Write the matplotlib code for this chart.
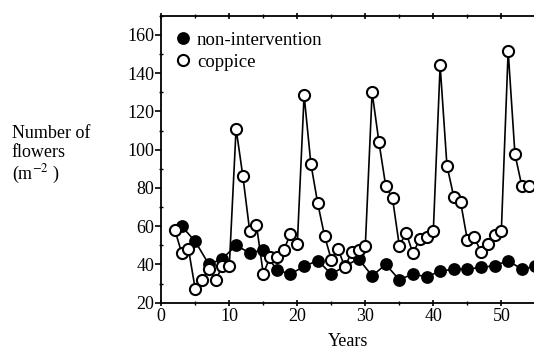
import matplotlib
matplotlib.use("Agg")
import matplotlib.pyplot as plt
from matplotlib.ticker import MultipleLocator

plt.rcParams['font.family'] = ['Liberation Serif', 'DejaVu Serif']
plt.rcParams['mathtext.fontset'] = 'stix'

# non-intervention (filled), every other year
years_non = [3, 5, 7, 9, 11, 13, 15, 17, 19, 21, 23, 25, 27, 29, 31, 33, 35, 37, 39,
             41, 43, 45, 47, 49, 51, 53, 55]
flowers_non = [60, 52, 40, 43, 50, 46, 47.5, 37, 35, 39, 42, 35, 39, 43, 34, 40, 32, 35, 33.5,
               36.5, 37.5, 37.5, 38.5, 39.3, 42, 37.5, 39]

# coppice (open), yearly
years_cop = list(range(2, 55))
flowers_cop = [58, 46, 48, 27, 32, 37.5, 32, 39, 39, 111, 86, 57.5, 60.5, 35, 44, 44, 47.5, 56,
               50.5, 128.5, 92.5, 72, 55, 42.5, 48, 38.5, 46.7, 47.5, 49.7, 130, 104, 81, 74.5,
               49.7, 56.5, 45.8, 53.2, 54.2, 57.7, 144, 91.7, 75.4, 72.8, 52.8, 54.2, 46.7, 50.7,
               55.4, 57.7, 151.6, 97.6, 81.2, 81.2]

fig = plt.figure(figsize=(5.34, 3.53), dpi=100)
ax = fig.add_axes([0.302, 0.1425, 0.698, 0.813])

ax.plot(years_non, flowers_non, color='black', lw=1.2, marker='o', ms=8,
        mfc='black', mec='black', mew=1.2, label='non-intervention', zorder=2)
ax.plot(years_cop, flowers_cop, color='black', lw=1.2, marker='o', ms=8,
        mfc='white', mec='black', mew=1.5, label='coppice', zorder=3)

ax.set_xlim(0, 54.8)
ax.set_ylim(20, 170)
ax.xaxis.set_major_locator(MultipleLocator(10))
ax.xaxis.set_minor_locator(MultipleLocator(5))
ax.yaxis.set_minor_locator(MultipleLocator(10))
ax.set_yticks([20, 40, 60, 80, 100, 120, 140, 160])

ax.spines['right'].set_visible(False)
for s in ['left', 'bottom', 'top']:
    ax.spines[s].set_linewidth(1.3)

ax.tick_params(axis='y', which='major', direction='out', length=4, width=1.2, labelsize=13, pad=1)
ax.tick_params(axis='y', which='minor', direction='inout', length=3, width=1)
ax.tick_params(axis='x', which='major', direction='inout', length=5, width=1.2, labelsize=13,
               top=True, pad=1)
ax.tick_params(axis='x', which='minor', direction='inout', length=3, width=1, top=True)

ax.set_xlabel('Years', fontsize=13, labelpad=6)
fig.text(0.022, 0.647, 'Number of\nflowers\n(m$^{-2}$ )', fontsize=13, ha='left', va='top',
         linespacing=1.15)

leg = ax.legend(loc='upper left', bbox_to_anchor=(0.0, 0.99), frameon=False, fontsize=13.5,
                handlelength=0.9, handletextpad=0.3, borderaxespad=0.3, labelspacing=0.25)
for h in leg.legend_handles:
    h.set_linestyle('None')

fig.savefig('out.png', dpi=100)
